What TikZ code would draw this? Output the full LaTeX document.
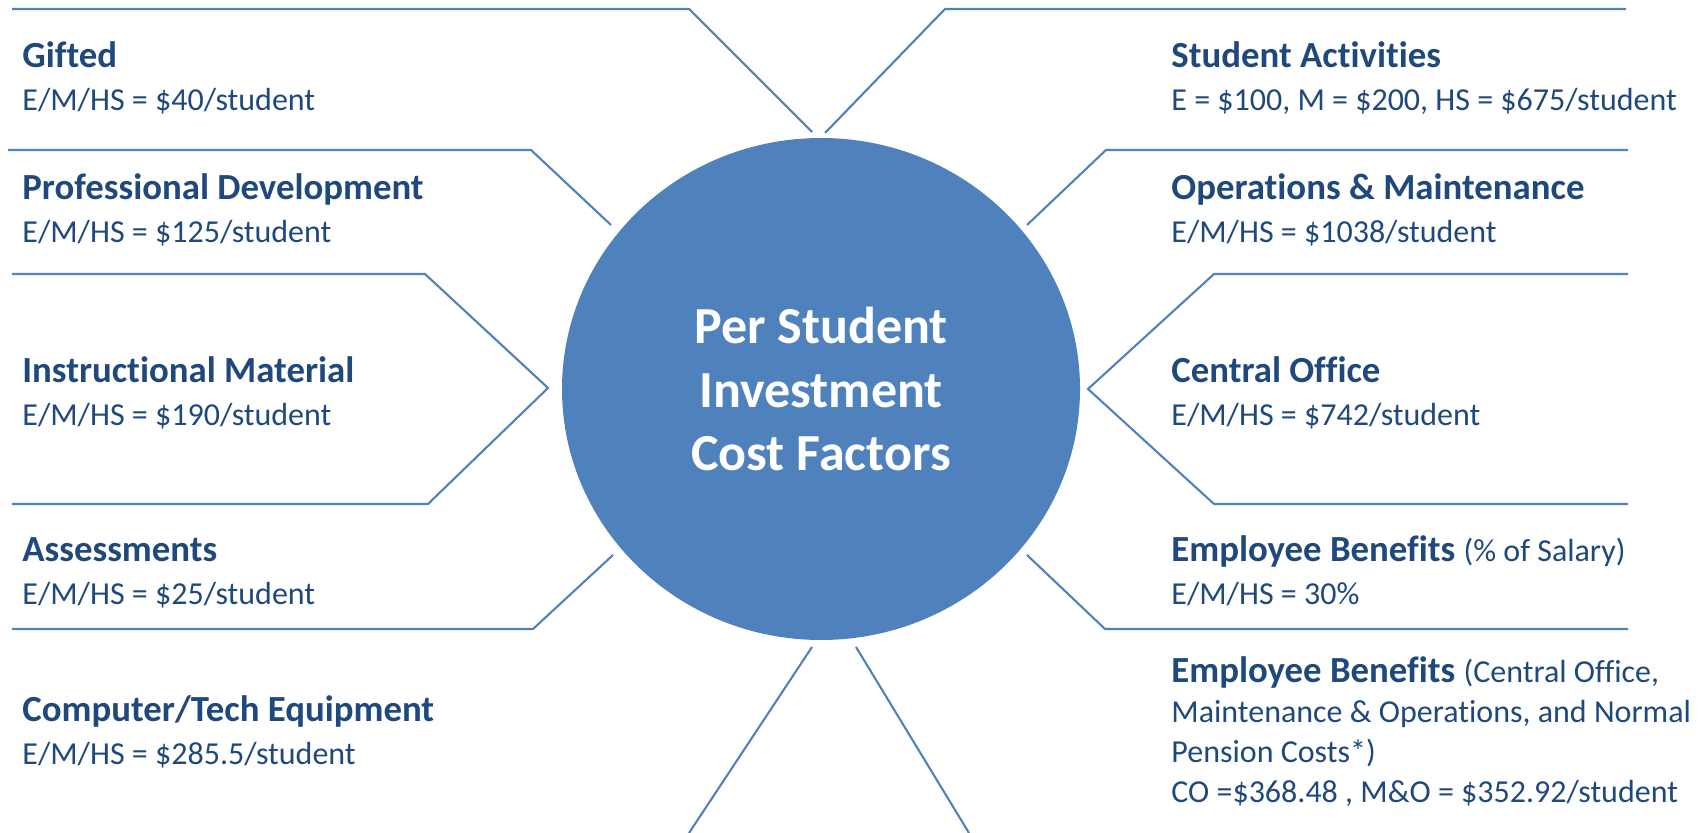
\documentclass[tikz,border=0pt]{standalone}
\usepackage{fontspec}
\setmainfont{Carlito}[Ligatures=NoCommon]
\usetikzlibrary{shapes.geometric}
\definecolor{accentblue}{HTML}{4F81BD}
\definecolor{textblue}{HTML}{1F497D}
\begin{document}
\begin{tikzpicture}[x=0.5pt,y=-0.5pt,
	rule/.style={draw=accentblue,line width=1.05pt},
	head/.style={anchor=base west,inner sep=0pt,text=textblue,font=\fontsize{18.4}{22}\selectfont\bfseries},
	val/.style={anchor=base west,inner sep=0pt,text=textblue,font=\fontsize{16}{20}\selectfont}]
	\useasboundingbox (0,0) rectangle (1700,833);
	\node[ellipse,fill=accentblue,minimum width=259pt,minimum height=251pt,inner sep=0pt,align=center,text=white,font=\fontsize{26}{31.75}\selectfont\bfseries] (hub) at (821,389) {Per Student\\Investment\\Cost Factors};
	%left side
	\draw[rule] (12,9)--(689,9)--(812,132);
	\draw[rule] (8,150)--(531,150)--(611,225);
	\draw[rule] (12,274)--(425,274)--(548,388)--(428,504)--(12,504);
	\draw[rule] (12,629)--(533,629)--(613,555);
	%right side
	\draw[rule] (1626,9)--(945,9)--(825,133);
	\draw[rule] (1628,150)--(1106,150)--(1027,225);
	\draw[rule] (1628,274)--(1214,274)--(1088,389)--(1214,504)--(1628,504);
	\draw[rule] (1628,629)--(1105,629)--(1027,555);
	%bottom
	\draw[rule] (812,647)--(689,833);
	\draw[rule] (856,647)--(969,833);
	\foreach \nm/\ttl/\vl/\yy in {gift/Gifted/40/68,prof/Professional Development/125/200,instr/Instructional Material/190/383,assess/Assessments/25/561,tech/{Computer/Tech Equipment}/285.5/721}
	{\node[head] (h\nm) at (22,\yy) {\ttl};
	\node[val] (v\nm) at (22,\yy+43) {E/M/HS = \$\vl/student};}
	\foreach \nm/\ttl/\vl/\yy in {act/Student Activities/{E = \$100, M = \$200, HS = \$675/student}/68,ops/Operations \& Maintenance/{E/M/HS = \$1038/student}/200,co/Central Office/{E/M/HS = \$742/student}/383}
	{\node[head] (h\nm) at (1171,\yy) {\ttl};
	\node[val] (v\nm) at (1171,\yy+43) {\vl};}
	\node[head] (hben) at (1171,561) {Employee Benefits \mdseries\fontsize{16}{20}\selectfont(\% of Salary)};
	\node[val] (vben) at (1171,604) {E/M/HS = 30\%};
	\node[head] (hpen) at (1171,682) {Employee Benefits \mdseries\fontsize{16}{20}\selectfont(Central Office,};
	\node[val] (vpen1) at (1171,722) {Maintenance \& Operations, and Normal};
	\node[val] (vpen2) at (1171,762) {Pension Costs*)};
	\node[val] (vpen3) at (1171,802) {CO =\$368.48 , M\&O = \$352.92/student};
\end{tikzpicture}
\end{document}
